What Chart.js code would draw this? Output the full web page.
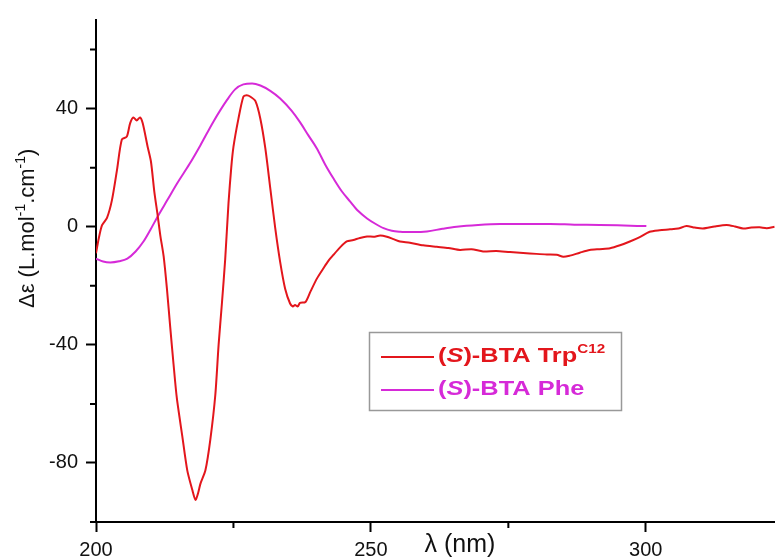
<!DOCTYPE html>
<html>
<head>
<meta charset="utf-8">
<script src="https://cdn.jsdelivr.net/npm/chart.js@4.4.1/dist/chart.umd.min.js"></script>
<style>
  html, body { margin: 0; padding: 0; background: #fff; }
</style>
</head>
<body>
<canvas id="cdChart" width="775" height="559"></canvas>
<script>
// wavelength (nm) and delta epsilon
const trpX = [200.0, 200.5, 201.1, 202.0, 202.9, 203.8, 204.7, 205.6, 206.2, 206.8, 207.4, 208.0, 208.5, 209.4, 210.0,
  210.6, 211.2, 211.7, 212.3, 212.9, 213.5, 214.1, 214.7, 215.7, 216.6, 217.5, 218.1, 218.6, 219.0, 219.9,
  220.8, 221.7, 222.3, 222.9, 223.5, 224.1, 224.6, 225.0, 225.9, 226.8, 227.4, 228.1, 229.0, 229.9, 230.8,
  231.7, 232.6, 233.5, 234.4, 235.3, 235.8, 236.2, 236.7, 237.1, 238.1, 239.0, 240.2, 241.4, 242.3, 243.2,
  244.4, 245.6, 246.8, 248.0, 249.3, 250.5, 251.7, 252.9, 254.1, 255.3, 257.1, 259.5, 262.0, 264.1, 266.2,
  268.3, 270.4, 272.8, 275.3, 277.7, 280.1, 282.0, 283.8, 285.0, 286.2, 288.0, 289.8, 291.6, 293.5, 295.3,
  297.1, 298.9, 300.7, 302.5, 304.4, 305.9, 307.4, 308.9, 310.4, 312.5, 314.7, 316.2, 317.7, 319.2, 320.7,
  322.0, 323.4];
const trpY = [-9, -4, 0.5, 3, 9, 19, 29.5, 30.5, 35, 37, 36, 37, 35, 27, 22,
  12, 4, -3, -10, -21, -34, -46.5, -58, -71, -82.5, -89, -92.5, -90, -87, -82.5,
  -72, -57, -40, -26, -11, 8, 20, 27, 36.5, 44, 44.5, 44, 42.5, 36.5, 26.5,
  13, -0.5, -12, -21, -26, -27, -26.5, -27, -25.8, -25.5, -22, -17.5, -14, -11.5, -9.5,
  -7, -5, -4.5, -3.8, -3.3, -3.4, -3, -3.4, -4.2, -5, -5.4, -6.3, -6.8, -7.2, -7.9,
  -7.6, -8.4, -8.2, -8.6, -8.9, -9.2, -9.4, -9.5, -10.2, -9.8, -8.8, -7.9, -7.6, -7.3, -6.3,
  -5, -3.5, -1.7, -1.2, -0.9, -0.6, 0.2, -0.3, -0.6, 0.1, 0.6, 0.1, -0.6, -0.3, -0.2,
  -0.5, 0];

const pheX = [200.0, 201.3, 202.6, 204.2, 205.7, 207.2, 208.6, 209.9, 211.2, 213.0, 214.8, 217.0, 219.0, 221.3, 223.9,
  225.3, 226.8, 228.4, 229.9, 231.7, 233.5, 235.6, 237.1, 238.6, 240.2, 241.7, 243.2, 244.7, 246.2, 247.7,
  249.3, 250.8, 252.3, 253.8, 255.3, 257.7, 260.2, 263.0, 265.6, 269.5, 273.5, 278.0, 282.6, 287.0, 291.6,
  296.0, 300.1];
const pheY = [-10.8, -11.8, -12.1, -11.7, -10.8, -8.4, -5.1, -1, 3.4, 9.1, 14.8, 21.2, 27.6, 35.4, 43.1,
  46.5, 48.2, 48.5, 47.8, 46, 43.4, 39.2, 35.4, 31, 26.4, 21, 16.3, 12, 8.6, 5.3,
  2.8, 1, -0.5, -1.4, -1.7, -1.8, -1.6, -0.7, 0, 0.6, 0.9, 0.9, 0.9, 0.7, 0.6,
  0.4, 0.2];

const seriesNames = ['(S)-BTA TrpC12', '(S)-BTA Phe'];
const seriesColors = ['#e3161c', '#d62ad8'];
const xTickLabels = [200, 250, 300];
const yTickLabels = [-80, -40, 0, 40];

const toPoints = (xs, ys) => xs.map((x, i) => ({ x: x, y: ys[i] }));

function richText(ctx, parts, x, y, sx) {
  ctx.save();
  ctx.translate(x, y);
  ctx.scale(sx, 1);
  let cx = 0;
  parts.forEach(p => {
    ctx.font = p.font;
    ctx.fillStyle = p.color;
    ctx.fillText(p.t, cx, p.dy || 0);
    cx += ctx.measureText(p.t).width;
  });
  ctx.restore();
}

// short minor ticks + axis titles + the boxed legend
const extras = {
  id: 'extras',
  afterDraw(chart) {
    const { ctx, chartArea, scales } = chart;
    const xs = scales.x, ys = scales.y;
    ctx.save();
    ctx.strokeStyle = '#000';
    ctx.lineWidth = 2;
    ctx.beginPath();
    xs.ticks.forEach(t => {
      if (!xTickLabels.includes(t.value)) {
        const px = xs.getPixelForValue(t.value);
        ctx.moveTo(px, chartArea.bottom);
        ctx.lineTo(px, chartArea.bottom + 6);
      }
    });
    ys.ticks.forEach(t => {
      if (!yTickLabels.includes(t.value)) {
        const py = ys.getPixelForValue(t.value);
        ctx.moveTo(chartArea.left, py);
        ctx.lineTo(chartArea.left - 6, py);
      }
    });
    ctx.stroke();

    // x title, sits on the tick label line
    ctx.fillStyle = '#111';
    ctx.font = '25px "Liberation Sans", Arial, sans-serif';
    ctx.textAlign = 'center';
    ctx.textBaseline = 'alphabetic';
    ctx.fillText('λ (nm)', 460, 552);
    ctx.textAlign = 'left';

    // y title, rotated
    ctx.save();
    ctx.translate(34, 308);
    ctx.rotate(-Math.PI / 2);
    const f = '22px "Liberation Sans", Arial, sans-serif';
    const fs = '14px "Liberation Sans", Arial, sans-serif';
    richText(ctx, [
      { t: 'Δε (L.mol', font: f, color: '#111' },
      { t: '-1', font: fs, color: '#111', dy: -9 },
      { t: '.cm', font: f, color: '#111' },
      { t: '-1', font: fs, color: '#111', dy: -9 },
      { t: ')', font: f, color: '#111' }
    ], 0, 0, 1);
    ctx.restore();

    // legend
    ctx.fillStyle = '#fff';
    ctx.fillRect(369, 332, 252, 78);
    ctx.strokeStyle = '#999';
    ctx.lineWidth = 1.5;
    ctx.strokeRect(369.5, 332.5, 252, 78);
    const rows = [357, 390];
    const bold = 'bold 20px "Liberation Sans", Arial, sans-serif';
    const boldIt = 'italic bold 20px "Liberation Sans", Arial, sans-serif';
    const sup = 'bold 12px "Liberation Sans", Arial, sans-serif';
    chart.data.datasets.forEach((ds, i) => {
      ctx.strokeStyle = ds.borderColor;
      ctx.lineWidth = 2;
      ctx.beginPath();
      ctx.moveTo(381, rows[i]);
      ctx.lineTo(434, rows[i]);
      ctx.stroke();
      const c = ds.borderColor;
      const parts = [
        { t: '(', font: bold, color: c },
        { t: 'S', font: boldIt, color: c },
        { t: ')-BTA ' + (i === 0 ? 'Trp' : 'Phe'), font: bold, color: c }
      ];
      if (i === 0) parts.push({ t: 'C12', font: sup, color: c, dy: -9 });
      richText(ctx, parts, 438, rows[i] + 5, 1.27);
    });
    ctx.restore();
  }
};

const ctx = document.getElementById('cdChart').getContext('2d');
const cdChart = new Chart(ctx, {
  type: 'line',
  data: {
    datasets: [{
      label: seriesNames[0],
      data: toPoints(trpX, trpY),
      borderColor: seriesColors[0],
      borderWidth: 2,
      pointRadius: 0,
      tension: 0.25
    }, {
      label: seriesNames[1],
      data: toPoints(pheX, pheY),
      borderColor: seriesColors[1],
      borderWidth: 2,
      pointRadius: 0,
      cubicInterpolationMode: 'monotone'
    }]
  },
  options: {
    responsive: false,
    animation: false,
    devicePixelRatio: 1,
    layout: { padding: { top: 16, right: 0, left: 0, bottom: 0 } },
    plugins: { legend: { display: false }, tooltip: { enabled: false } },
    scales: {
      x: {
        type: 'linear',
        min: 200,
        max: 323.5,
        afterFit: s => { s.height = 37; },
        border: { color: '#000', width: 2 },
        grid: {
          drawOnChartArea: false,
          tickLength: 10,
          tickWidth: 2,
          tickColor: c => xTickLabels.includes(c.tick.value) ? '#000' : 'rgba(0,0,0,0)'
        },
        ticks: {
          stepSize: 25,
          includeBounds: false,
          maxRotation: 0,
          autoSkip: false,
          padding: 6,
          color: '#111',
          font: { size: 20, family: '"Liberation Sans", Arial, sans-serif' },
          callback: v => xTickLabels.includes(v) ? String(v) : ''
        }
      },
      y: {
        min: -100,
        max: 70,
        afterFit: s => { s.width = 96; },
        border: { color: '#000', width: 2 },
        grid: {
          drawOnChartArea: false,
          tickLength: 10,
          tickWidth: 2,
          tickColor: c => yTickLabels.includes(c.tick.value) ? '#000' : 'rgba(0,0,0,0)'
        },
        ticks: {
          stepSize: 20,
          includeBounds: false,
          padding: 8,
          color: '#111',
          font: { size: 20, family: '"Liberation Sans", Arial, sans-serif' },
          callback: v => yTickLabels.includes(v) ? String(v) : ''
        }
      }
    }
  },
  plugins: [extras]
});
</script>
</body>
</html>
